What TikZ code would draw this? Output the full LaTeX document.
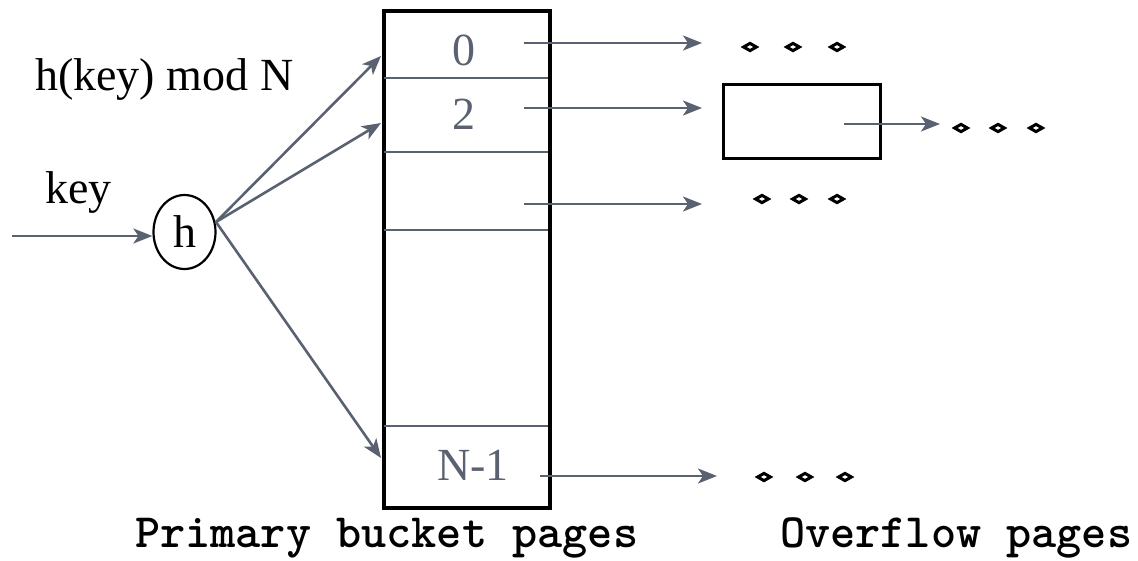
\documentclass[tikz,border=0pt]{standalone}
\usepackage{fontspec}
\setmainfont{Liberation Serif}
\usetikzlibrary{arrows.meta,shapes.geometric}
\definecolor{lgray}{HTML}{5A6170}
\tikzset{
  arr/.style={draw=lgray, line width=2.6pt, -{Stealth[length=19pt,width=15pt,inset=5pt]}},
  divider/.style={draw=lgray, line width=2.6pt},
  frame/.style={draw=black, line width=2.6pt},
  dot/.style={diamond, draw=black, fill=white, line width=3pt, inner sep=0pt, minimum width=14pt, minimum height=8.5pt},
  serif/.style={font=\fontsize{46}{52}\selectfont, inner sep=0pt},
  cell/.style={font=\fontsize{46}{52}\selectfont, inner sep=0pt, text=lgray},
  mono/.style={font=\fontsize{47.9}{52}\selectfont\ttfamily\bfseries, inner sep=0pt},
}
\begin{document}
\begin{tikzpicture}[x=1pt,y=-1pt]
\useasboundingbox (0,0) rectangle (1138,560);
% bucket column
\node[frame, rectangle, minimum width=165pt, minimum height=496pt, inner sep=0pt, anchor=north west] (bucket) at (383,10) {};
\coordinate (d1l) at (383,78);  \coordinate (d1r) at (548,78);
\coordinate (d2l) at (383,152); \coordinate (d2r) at (548,152);
\coordinate (d3l) at (383,230); \coordinate (d3r) at (548,230);
\coordinate (d4l) at (383,426); \coordinate (d4r) at (548,426);
\draw[divider] (d1l) -- (d1r);
\draw[divider] (d2l) -- (d2r);
\draw[divider] (d3l) -- (d3r);
\draw[divider] (d4l) -- (d4r);
\draw[frame] (bucket.north west) rectangle (bucket.south east);
% cell labels
\node[cell, anchor=base] (c0) at (464,65) {0};
\node[cell, anchor=base] (c2) at (464,129) {2};
\node[cell, anchor=base] (cn) at (473,480) {N-1};
% hash function
\node[ellipse, draw=black, line width=2.2pt, minimum width=62pt, minimum height=74pt, inner sep=0pt, font=\fontsize{46}{52}\selectfont] (h) at (184.5,232) {h};
\coordinate (kin) at (12,236);
\draw[arr] (kin) -- (h.west |- kin);
\node[serif, anchor=base west] (keylbl) at (45,203) {key};
\node[serif, anchor=base west] (hlbl) at (35,90) {h(key) mod N};
\coordinate (hs) at (216,222);
\coordinate (t0) at (381,56);
\coordinate (t2) at (381,123);
\coordinate (tn) at (381,458);
\draw[arr] (hs) -- (t0);
\draw[arr] (hs) -- (t2);
\draw[arr] (hs) -- (tn);
% outgoing pointers
\coordinate (p0) at (524,43);  \coordinate (q0) at (702,43);
\coordinate (p2) at (524,108); \coordinate (q2) at (702,108);
\coordinate (p3) at (524,204); \coordinate (q3) at (702,204);
\coordinate (pn) at (540,476); \coordinate (qn) at (717,476);
\draw[arr] (p0) -- (q0);
\draw[arr] (p2) -- (q2);
\draw[arr] (p3) -- (q3);
\draw[arr] (pn) -- (qn);
% overflow page
\node[frame, rectangle, minimum width=157pt, minimum height=74pt, inner sep=0pt, anchor=north west] (ovf) at (722,83) {};
\coordinate (po) at (844,124); \coordinate (qo) at (940,124);
\draw[arr] (po) -- (qo);
% dots
\node[dot] (a1) at (750,47) {}; \node[dot] (a2) at (793,47) {}; \node[dot] (a3) at (837,47) {};
\node[dot] (b1) at (961,128) {}; \node[dot] (b2) at (998,128) {}; \node[dot] (b3) at (1036,128) {};
\node[dot] (e1) at (762,199) {}; \node[dot] (e2) at (799,199) {}; \node[dot] (e3) at (837,199) {};
\node[dot] (f1) at (764,477) {}; \node[dot] (f2) at (805,477) {}; \node[dot] (f3) at (845,477) {};
% captions
\node[mono, anchor=base west] (cap1) at (135,547) {Primary bucket pages};
\node[mono, anchor=base west] (cap2) at (780,547) {Overflow pages};
\end{tikzpicture}
\end{document}
